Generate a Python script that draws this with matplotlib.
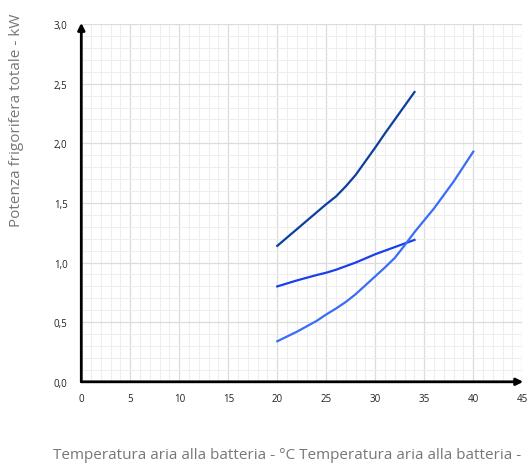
import numpy as np
import matplotlib.pyplot as plt
from matplotlib.ticker import MultipleLocator, FuncFormatter

# curve data
x_dark = [20, 22, 24, 25, 26, 27, 28, 29, 30, 31, 32, 33, 34]
y_dark = [1.14, 1.28, 1.42, 1.49, 1.555, 1.64, 1.735, 1.85, 1.965, 2.085, 2.20, 2.315, 2.43]

x_mid = [20, 22, 24, 25, 26, 28, 30, 32, 34]
y_mid = [0.80, 0.85, 0.895, 0.915, 0.94, 1.00, 1.07, 1.13, 1.19]

x_light = [20, 22, 24, 25, 26, 27, 28, 29, 30, 31, 32, 33, 34, 36, 38, 40]
y_light = [0.34, 0.42, 0.51, 0.565, 0.615, 0.67, 0.735, 0.81, 0.885, 0.96, 1.04, 1.145, 1.255, 1.455, 1.68, 1.93]

xlabel = "Temperatura aria alla batteria - °C Temperatura aria alla batteria -"
ylabel = "Potenza frigorifera totale - kW"

plt.rcParams['font.family'] = ['Open Sans', 'DejaVu Sans']

fig = plt.figure(figsize=(5.31, 4.64), dpi=100)
ax = fig.add_axes([0.1531, 0.175, 0.8305, 0.771])

ax.plot(x_dark, y_dark, color='#0d3f9e', lw=1.6, zorder=3)
ax.plot(x_mid, y_mid, color='#1a3ff0', lw=1.6, zorder=3)
ax.plot(x_light, y_light, color='#3a6df5', lw=1.6, zorder=3)

ax.set_xlim(0, 45)
ax.set_ylim(0, 3.0)
ax.xaxis.set_major_locator(MultipleLocator(5))
ax.xaxis.set_minor_locator(MultipleLocator(1))
ax.yaxis.set_major_locator(MultipleLocator(0.5))
ax.yaxis.set_minor_locator(MultipleLocator(0.1))
ax.yaxis.set_major_formatter(FuncFormatter(lambda v, p: f"{v:.1f}".replace('.', ',')))

ax.grid(which='major', color='#dcdcdc', lw=0.9, zorder=0)
ax.grid(which='minor', color='#eeeeee', lw=0.8, zorder=0)
ax.set_axisbelow(True)

for s in ax.spines.values():
    s.set_visible(False)

ax.tick_params(which='both', length=0)
ax.tick_params(axis='x', pad=8, labelsize=7, labelcolor='#222222')
ax.tick_params(axis='y', pad=10, labelsize=7, labelcolor='#222222')

# axis arrows
ax.annotate('', xy=(45.1, 0), xytext=(0, 0), annotation_clip=False,
            arrowprops=dict(arrowstyle='-|>', color='black', lw=2, mutation_scale=10,
                            shrinkA=0, shrinkB=0))
ax.annotate('', xy=(0, 3.01), xytext=(0, 0), annotation_clip=False,
            arrowprops=dict(arrowstyle='-|>', color='black', lw=2, mutation_scale=10,
                            shrinkA=0, shrinkB=0))

fig.text(53 / 531, 1 - 456 / 464, xlabel, ha='left', va='center',
         fontsize=11, color='#777777')
fig.text(17 / 531, 1 - 120 / 464, ylabel, ha='center', va='center',
         rotation=90, fontsize=11, color='#777777')

fig.savefig('out.png', dpi=100)
